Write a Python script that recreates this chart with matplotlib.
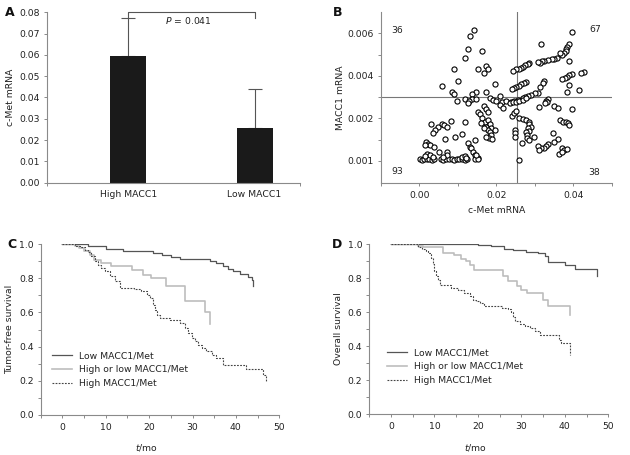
import matplotlib
matplotlib.use("Agg")
import matplotlib.pyplot as plt
import numpy as np
from matplotlib.ticker import FixedLocator, MultipleLocator, FormatStrFormatter

plt.rcParams['font.family'] = ['DejaVu Sans']
plt.rcParams['font.size'] = 6.7
plt.rcParams['mathtext.fontset'] = 'dejavusans'

# ---------------- Data ----------------
# Panel A
groups = ["High MACC1", "Low MACC1"]
cmet_mean = [0.0595, 0.0255]
cmet_sd = [0.0177, 0.0183]
p_text = "$\\mathit{P}$ = 0.041"

# Panel B (c-Met mRNA, MACC1 mRNA) by quadrant
upper_left = [(0.0142, 0.00616), (0.0132, 0.00586), (0.0125, 0.00525), (0.0118, 0.00485),
              (0.0162, 0.00515), (0.0090, 0.00434), (0.0153, 0.00432), (0.0173, 0.00445),
              (0.0178, 0.00432), (0.0168, 0.00413), (0.0101, 0.00374), (0.0197, 0.00363),
              (0.0058, 0.00354), (0.0084, 0.00325), (0.0089, 0.00314), (0.0174, 0.00325),
              (0.0147, 0.00324), (0.0136, 0.00314), (0.0209, 0.00305), (0.0118, 0.00292),
              (0.0137, 0.00289), (0.0147, 0.00292), (0.0129, 0.00283), (0.0127, 0.00274),
              (0.0097, 0.00283), (0.0183, 0.00294), (0.0191, 0.00285), (0.0200, 0.00281),
              (0.0215, 0.00278)]
upper_right = [(0.0397, 0.00605), (0.0315, 0.00550), (0.0389, 0.00550), (0.0385, 0.00537),
               (0.0382, 0.00525), (0.0380, 0.00517), (0.0375, 0.00506), (0.0371, 0.00500),
               (0.0366, 0.00506), (0.0358, 0.00485), (0.0351, 0.00481), (0.0344, 0.00478),
               (0.0334, 0.00474), (0.0325, 0.00471), (0.0318, 0.00470), (0.0314, 0.00460),
               (0.0309, 0.00463), (0.0390, 0.00468), (0.0286, 0.00462), (0.0282, 0.00456),
               (0.0275, 0.00449), (0.0269, 0.00443), (0.0265, 0.00437), (0.0258, 0.00434),
               (0.0251, 0.00431), (0.0243, 0.00424), (0.0325, 0.00377), (0.0321, 0.00368),
               (0.0427, 0.00420), (0.0419, 0.00415), (0.0396, 0.00407), (0.0390, 0.00402),
               (0.0384, 0.00396), (0.0378, 0.00391), (0.0372, 0.00387), (0.0389, 0.00358),
               (0.0416, 0.00332), (0.0384, 0.00325), (0.0278, 0.00373), (0.0272, 0.00366),
               (0.0265, 0.00360), (0.0258, 0.00354), (0.0252, 0.00347), (0.0246, 0.00344),
               (0.0241, 0.00336), (0.0314, 0.00347), (0.0309, 0.00321), (0.0301, 0.00318),
               (0.0291, 0.00310), (0.0282, 0.00305), (0.0275, 0.00299), (0.0269, 0.00294),
               (0.0256, 0.00286), (0.0247, 0.00280), (0.0239, 0.00277), (0.0334, 0.00289),
               (0.0329, 0.00280)]
lower_right = [(0.0226, 0.00282), (0.0235, 0.00271), (0.0243, 0.00278), (0.0252, 0.00275),
               (0.0260, 0.00282), (0.0269, 0.00288), (0.0278, 0.00294), (0.0331, 0.00278),
               (0.0327, 0.00271), (0.0311, 0.00252), (0.0349, 0.00260), (0.0360, 0.00250),
               (0.0397, 0.00242), (0.0241, 0.00211), (0.0247, 0.00223), (0.0252, 0.00234),
               (0.0260, 0.00200), (0.0269, 0.00195), (0.0278, 0.00192), (0.0285, 0.00184),
               (0.0286, 0.00173), (0.0289, 0.00161), (0.0282, 0.00153), (0.0286, 0.00140),
               (0.0278, 0.00137), (0.0280, 0.00121), (0.0279, 0.00106), (0.0286, 0.00098),
               (0.0299, 0.00111), (0.0266, 0.00082), (0.0249, 0.00145), (0.0249, 0.00129),
               (0.0249, 0.00110), (0.0366, 0.00192), (0.0374, 0.00184), (0.0381, 0.00184),
               (0.0387, 0.00176), (0.0389, 0.00169), (0.0347, 0.00132), (0.0360, 0.00101),
               (0.0351, 0.00090), (0.0335, 0.00078), (0.0329, 0.00071), (0.0323, 0.00062),
               (0.0316, 0.00059), (0.0308, 0.00071), (0.0312, 0.00051), (0.0372, 0.00059),
               (0.0377, 0.00051), (0.0384, 0.00056), (0.0364, 0.00030), (0.0370, 0.00043),
               (0.0260, 0.00004)]
lower_left = [(0.0209, 0.00264), (0.0217, 0.00247), (0.0168, 0.00258), (0.0174, 0.00244),
              (0.0178, 0.00231), (0.0153, 0.00231), (0.0157, 0.00219), (0.0163, 0.00200),
              (0.0170, 0.00181), (0.0178, 0.00192), (0.0183, 0.00172), (0.0174, 0.00161),
              (0.0187, 0.00153), (0.0178, 0.00145), (0.0183, 0.00134), (0.0187, 0.00121),
              (0.0181, 0.00109), (0.0174, 0.00114), (0.0189, 0.00103), (0.0168, 0.00153),
              (0.0161, 0.00176), (0.0196, 0.00145), (0.0029, 0.00173), (0.0058, 0.00175),
              (0.0065, 0.00169), (0.0071, 0.00158), (0.0047, 0.00158), (0.0041, 0.00145),
              (0.0035, 0.00132), (0.0082, 0.00189), (0.0118, 0.00181), (0.0066, 0.00103),
              (0.0092, 0.00112), (0.0111, 0.00125), (0.0144, 0.00100), (0.0127, 0.00082),
              (0.0131, 0.00067), (0.0135, 0.00059), (0.0140, 0.00043), (0.0144, 0.00027),
              (0.0151, 0.00015), (0.0016, 0.00090), (0.0022, 0.00079), (0.0028, 0.00074),
              (0.0039, 0.00063), (0.0015, 0.00074), (0.0052, 0.00040), (0.0071, 0.00043),
              (0.0002, 0.00008), (0.0006, 0.00006), (0.0013, 0.00009), (0.0019, 0.00007),
              (0.0025, 0.00010), (0.0032, 0.00005), (0.0039, 0.00008), (0.0056, 0.00009),
              (0.0062, 0.00006), (0.0068, 0.00008), (0.0077, 0.00007), (0.0084, 0.00009),
              (0.0091, 0.00006), (0.0097, 0.00008), (0.0103, 0.00007), (0.0111, 0.00009),
              (0.0118, 0.00006), (0.0123, 0.00008), (0.0144, 0.00008), (0.0153, 0.00007),
              (0.0019, 0.00031), (0.0028, 0.00026), (0.0034, 0.00018), (0.0015, 0.00021),
              (0.0071, 0.00027), (0.0062, 0.00020), (0.0111, 0.00018), (0.0118, 0.00025),
              (0.0122, 0.00012), (0.0148, 0.00026)]
cmet_cut = 0.0254
macc1_cut = 0.003
quadrant_counts = {"ul": "36", "ur": "67", "ll": "93", "lr": "38"}
macc1_tick_pos = [0.0, 0.002, 0.004, 0.006]
macc1_tick_labels = ["0.001", "0.002", "0.004", "0.006"]

# Panel C (tumor-free survival)
c_low_t = [0, 6, 10, 14, 21, 23, 25, 27, 34, 35.5, 37, 38.2, 39.4, 41, 42.8, 43.8, 44]
c_low_s = [1.0, 0.99, 0.97, 0.957, 0.947, 0.938, 0.925, 0.914, 0.90, 0.889, 0.87, 0.856,
           0.84, 0.825, 0.805, 0.79, 0.756]
c_mid_t = [0, 2.8, 3.8, 5.0, 6.3, 7.3, 8.8, 11.1, 16.0, 18.6, 20.5, 23.8, 28.2, 32.8, 34.0]
c_mid_s = [1.0, 0.99, 0.977, 0.957, 0.934, 0.908, 0.889, 0.869, 0.850, 0.821, 0.801,
           0.752, 0.665, 0.60, 0.535]
c_high_t = [0, 2.8, 4.0, 5.1, 5.9, 6.7, 7.5, 8.2, 9.0, 9.8, 10.9, 12.1, 13.2, 16.6, 18.2,
            19.4, 20.2, 21.0, 21.4, 21.8, 22.5, 24.8, 27.0, 28.2, 29.0, 29.8, 30.5, 31.3,
            32.1, 33.2, 34.4, 35.5, 37.1, 42.4, 46.3, 47.0]
c_high_s = [1.0, 0.99, 0.98, 0.965, 0.955, 0.928, 0.903, 0.88, 0.86, 0.84, 0.811, 0.782,
            0.743, 0.735, 0.723, 0.704, 0.684, 0.646, 0.616, 0.587, 0.567, 0.558, 0.538,
            0.509, 0.48, 0.45, 0.43, 0.411, 0.392, 0.372, 0.353, 0.333, 0.294, 0.271,
            0.236, 0.20]

# Panel D (overall survival)
d_low_t = [0, 20.0, 23.1, 24.5, 26.1, 28.0, 31.0, 33.8, 35.4, 36.1, 40.0, 42.3, 47.3]
d_low_s = [1.0, 0.995, 0.99, 0.986, 0.972, 0.965, 0.955, 0.947, 0.927, 0.894, 0.878,
           0.855, 0.81]
d_mid_t = [0, 6.1, 7.3, 11.9, 14.6, 16.1, 17.3, 18.1, 19.1, 25.8, 26.9, 28.9, 30.0, 31.2,
           35.0, 36.2, 41.2]
d_mid_s = [1.0, 0.99, 0.98, 0.947, 0.933, 0.913, 0.898, 0.878, 0.849, 0.809, 0.784, 0.751,
           0.731, 0.712, 0.672, 0.633, 0.584]
d_high_t = [0, 6.1, 7.2, 8.0, 8.5, 9.3, 9.7, 10.0, 10.4, 10.8, 11.2, 13.8, 15.4, 16.9,
            18.1, 18.8, 19.6, 20.4, 21.5, 25.5, 26.9, 27.7, 28.1, 28.5, 29.7, 30.8, 32.0,
            33.1, 34.3, 38.6, 39.0, 41.2]
d_high_s = [1.0, 0.985, 0.97, 0.96, 0.947, 0.92, 0.88, 0.839, 0.81, 0.79, 0.76, 0.741,
            0.731, 0.712, 0.692, 0.673, 0.663, 0.653, 0.633, 0.625, 0.62, 0.60, 0.57,
            0.545, 0.53, 0.516, 0.506, 0.49, 0.463, 0.437, 0.418, 0.35]
legend_labels = ["Low MACC1/Met", "High or low MACC1/Met", "High MACC1/Met"]

# ---------------- Styling ----------------
W, H = 630, 455
SPINE = '#8a8a8a'
TXT = '#222222'


def px_axes(l, r, t, b):
    return [l / W, 1 - b / H, (r - l) / W, (b - t) / H]


def style(ax):
    for s in ['top', 'right']:
        ax.spines[s].set_visible(False)
    for s in ['left', 'bottom']:
        ax.spines[s].set_color(SPINE)
        ax.spines[s].set_linewidth(0.8)
    ax.tick_params(which='both', direction='out', color=SPINE, width=0.7,
                   labelcolor=TXT, labelsize=6.7)
    ax.tick_params(which='major', length=2.4)
    ax.tick_params(which='minor', length=2.4)
    ax.tick_params(axis='x', which='both', pad=3.5)
    ax.tick_params(axis='y', which='both', pad=2.5)


fig = plt.figure(figsize=(6.3, 4.55), dpi=100)

# ---------- Panel A ----------
axA = fig.add_axes(px_axes(46.7, 300, 12.3, 182.7))
style(axA)
xpos = np.arange(len(groups))
axA.bar(xpos, cmet_mean, width=0.285, color='#1a1a1a', zorder=2)
axA.errorbar(xpos, cmet_mean, yerr=[np.zeros(len(groups)), cmet_sd], fmt='none',
             ecolor='#555555', elinewidth=0.8, capsize=4.7, capthick=0.8, zorder=1)
top0 = cmet_mean[0] + cmet_sd[0]
axA.plot([xpos[0], xpos[0], xpos[1], xpos[1]], [top0, 0.08, 0.08, top0],
         color='#555555', lw=0.8, clip_on=False)
axA.text(0.477, 0.0761, p_text, ha='center', va='center', color=TXT, fontsize=6.7)
axA.set_xlim(-0.646, 1.36)
axA.set_ylim(0, 0.08)
axA.set_yticks(np.arange(0, 0.081, 0.01))
axA.yaxis.set_major_formatter(FormatStrFormatter('%.2f'))
axA.set_xticks(xpos)
axA.set_xticklabels(groups)
axA.tick_params(axis='x', which='major', length=0, pad=5.3)
axA.xaxis.set_minor_locator(FixedLocator([-0.646, 1.36]))
axA.set_ylabel("c-Met mRNA", color=TXT, fontsize=6.7)
axA.yaxis.set_label_coords(-0.127, 0.5)

# ---------- Panel B ----------
axB = fig.add_axes(px_axes(381, 611.7, 11.7, 182.7))
style(axB)
pts = upper_left + upper_right + lower_right + lower_left
bx = [p[0] for p in pts]
by = [p[1] for p in pts]
axB.axhline(macc1_cut, color='#777777', lw=0.8, zorder=1)
axB.axvline(cmet_cut, color='#777777', lw=0.8, zorder=1)
axB.plot(bx, by, 'o', mfc='white', mec='black', ms=3.7, mew=0.8, zorder=3, clip_on=False)
axB.set_xlim(-0.01, 0.05)
axB.set_ylim(-0.00103, 0.00702)
axB.set_xticks([0.0, 0.02, 0.04])
axB.xaxis.set_major_formatter(FormatStrFormatter('%.2f'))
axB.xaxis.set_minor_locator(FixedLocator([-0.01, 0.01, 0.03, 0.05]))
axB.set_yticks(macc1_tick_pos)
axB.set_yticklabels(macc1_tick_labels)
axB.yaxis.set_minor_locator(FixedLocator([0.001, 0.003, 0.005]))
axB.text(0.072, 0.889, quadrant_counts["ul"], transform=axB.transAxes, ha='center', va='center', color=TXT)
axB.text(0.928, 0.893, quadrant_counts["ur"], transform=axB.transAxes, ha='center', va='center', color=TXT)
axB.text(0.071, 0.064, quadrant_counts["ll"], transform=axB.transAxes, ha='center', va='center', color=TXT)
axB.text(0.925, 0.061, quadrant_counts["lr"], transform=axB.transAxes, ha='center', va='center', color=TXT)
axB.set_xlabel("c-Met mRNA", color=TXT, fontsize=6.7)
axB.xaxis.set_label_coords(0.5, -0.136)
axB.set_ylabel("MACC1 mRNA", color=TXT, fontsize=6.7)
axB.yaxis.set_label_coords(-0.158, 0.5)

# ---------- Panels C & D ----------
LOW = dict(color='#555555', lw=0.9)
MID = dict(color='#bdbdbd', lw=1.2)
HIGH = dict(color='#444444', lw=0.8, linestyle=(0, (1.6, 1.2)))


def km_axes(rect, curves, ylabel, leg_xy, ylab_x, xlab_y):
    ax = fig.add_axes(rect)
    style(ax)
    handles = []
    for (t, s), st in zip(curves, [LOW, MID, HIGH]):
        h, = ax.step(t, s, where='post', **st)
        handles.append(h)
    ax.set_xlim(-5, 50)
    ax.set_ylim(0, 1.0)
    ax.set_xticks(np.arange(0, 51, 10))
    ax.xaxis.set_minor_locator(MultipleLocator(5))
    ax.set_yticks(np.arange(0, 1.01, 0.2))
    ax.yaxis.set_major_formatter(FormatStrFormatter('%.1f'))
    ax.yaxis.set_minor_locator(MultipleLocator(0.1))
    ax.set_xlabel("$\\mathit{t}$/mo", color=TXT, fontsize=6.7)
    ax.xaxis.set_label_coords(0.445, xlab_y)
    ax.set_ylabel(ylabel, color=TXT, fontsize=6.7)
    ax.yaxis.set_label_coords(ylab_x, 0.5)
    leg = ax.legend(handles, legend_labels, loc='center left', bbox_to_anchor=leg_xy,
                    frameon=False, borderpad=0, borderaxespad=0, handlelength=2.2,
                    handletextpad=0.75, labelspacing=0.55, fontsize=6.7)
    for tx in leg.get_texts():
        tx.set_color(TXT)
    return ax


axC = km_axes(px_axes(40.7, 279.3, 244, 415),
              [(c_low_t, c_low_s), (c_mid_t, c_mid_s), (c_high_t, c_high_s)],
              "Tumor-free survival", (0.046, 0.265), -0.11, -0.158)
axD = km_axes(px_axes(369.3, 608.3, 244, 414),
              [(d_low_t, d_low_s), (d_mid_t, d_mid_s), (d_high_t, d_high_s)],
              "Overall survival", (0.073, 0.278), -0.111, -0.165)

# Panel letters
for lab, x, y in [("A", 5, 12), ("B", 333, 13), ("C", 7, 244), ("D", 331.7, 244)]:
    fig.text(x / W, 1 - y / H, lab, fontsize=9, fontweight='bold', ha='left', va='center',
             color='#111111')

fig.savefig("out.png", dpi=100)
